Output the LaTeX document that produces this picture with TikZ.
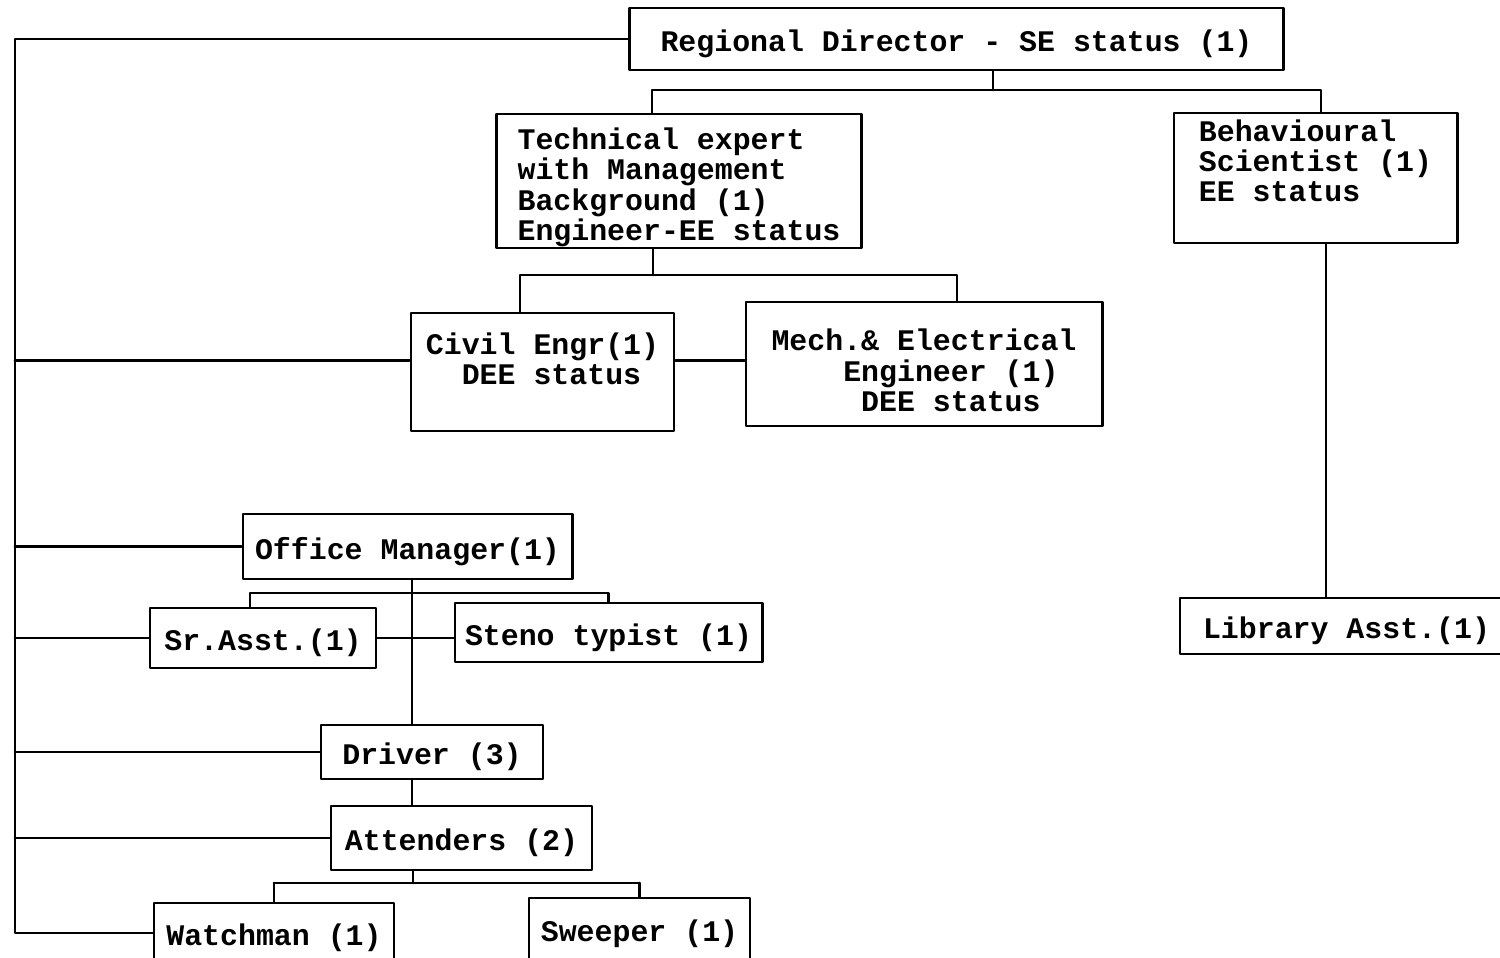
\documentclass[tikz,border=0pt]{standalone}
\usepackage{fontspec}
\setmonofont{Liberation Mono}
\newcommand\firstline{\rule{0pt}{9.8pt}}

\begin{document}
\begin{tikzpicture}[line cap=round,line join=round,x=0.01cm,y=-0.01cm,line width=0.8pt,
	post/.style={draw,inner sep=0pt,align=left,font=\ttfamily\bfseries\fontsize{8.5}{8.6}\selectfont,
		execute at begin node={\rule{0pt}{9pt}}}]
	\useasboundingbox (0,0) rectangle (1500,957);
	\clip (0,0) rectangle (1500,957);
	% boxes
	\node[post,minimum width=6.53cm,minimum height=0.62cm] (rd) at (956.5,39) {Regional Director - SE status (1)};
	\node[post,minimum width=3.64cm,minimum height=1.34cm] (tech) at (679,181) {\firstline Technical expert\\with Management\\Background (1)\\Engineer-EE status};
	\node[post,minimum width=2.83cm,minimum height=1.30cm] (behav) at (1315.5,178) {Behavioural\\Scientist (1)\\EE status\rule[-10pt]{0pt}{10pt}};
	\node[post,minimum width=2.63cm,minimum height=1.18cm] (civil) at (542.5,372) {\firstline Civil Engr(1)\\\phantom{xx}DEE status\\\strut};
	\node[post,minimum width=3.56cm,minimum height=1.24cm] (mech) at (924,364) {\firstline Mech.\& Electrical\\\phantom{xxxx}Engineer (1)\\\phantom{xxxxx}DEE status};
	\node[post,minimum width=3.29cm,minimum height=0.65cm] (om) at (407.5,546.5) {Office Manager(1)};
	\node[post,minimum width=2.26cm,minimum height=0.60cm] (sr) at (263,638) {Sr.Asst.(1)};
	\node[post,minimum width=3.07cm,minimum height=0.59cm] (steno) at (608.5,632.5) {Steno typist (1)};
	\node[post,minimum width=2.22cm,minimum height=0.54cm] (driver) at (432,752) {Driver (3)};
	\node[post,minimum width=2.61cm,minimum height=0.64cm] (att) at (461.5,838) {Attenders (2)};
	\node[post,minimum width=2.40cm,minimum height=0.60cm] (watch) at (274,933) {Watchman (1)};
	\node[post,minimum width=2.21cm,minimum height=0.62cm] (sweep) at (639.5,929) {Sweeper (1)};
	\node[post,minimum width=3.33cm,minimum height=0.56cm] (lib) at (1346.5,626) {Library Asst.(1)};
	% forks
	\coordinate (rdfork) at (993,90);
	\coordinate (techdrop) at (652,90);
	\coordinate (behavdrop) at (1321,90);
	\coordinate (techfork) at (653,275);
	\coordinate (civildrop) at (520,275);
	\coordinate (mechdrop) at (957,275);
	\coordinate (omstem) at (412,593);
	\coordinate (srdrop) at (250,593);
	\coordinate (attfork) at (413,883);
	\coordinate (libstem) at (1326,0);
	\coordinate (bus) at (15,0);
	\draw (rd.south -| rdfork) -- (rdfork);
	\draw (techdrop |- tech.north) -- (techdrop) -- (behavdrop) -- (behavdrop |- behav.north);
	\draw (tech.south -| techfork) -- (techfork);
	\draw (civildrop |- civil.north) -- (civildrop) -- (mechdrop) -- (mechdrop |- mech.north);
	\draw (civil.5) -- (civil.5 -| mech.west);
	\draw (om.south -| omstem) -- (driver.north -| omstem);
	\draw (srdrop |- sr.north) -- (srdrop) -| (steno.north);
	\draw (sr.east) -- (sr.east -| steno.west);
	\draw (driver.south -| omstem) -- (att.north -| omstem);
	\draw (att.south -| attfork) -- (attfork);
	\draw (watch.north |- attfork) -- (sweep.north |- attfork);
	\draw (watch.north |- attfork) -- (watch.north);
	\draw (sweep.north |- attfork) -- (sweep.north);
	\draw (behav.south -| libstem) -- (lib.north -| libstem);
	% left bus
	\draw (rd.west) -| (bus |- watch.west) -- (watch.west);
	\draw (bus |- civil.175) -- (civil.175);
	\draw (bus |- om.west) -- (om.west);
	\draw (bus |- sr.west) -- (sr.west);
	\draw (bus |- driver.west) -- (driver.west);
	\draw (bus |- att.west) -- (att.west);
\end{tikzpicture}
\end{document}
